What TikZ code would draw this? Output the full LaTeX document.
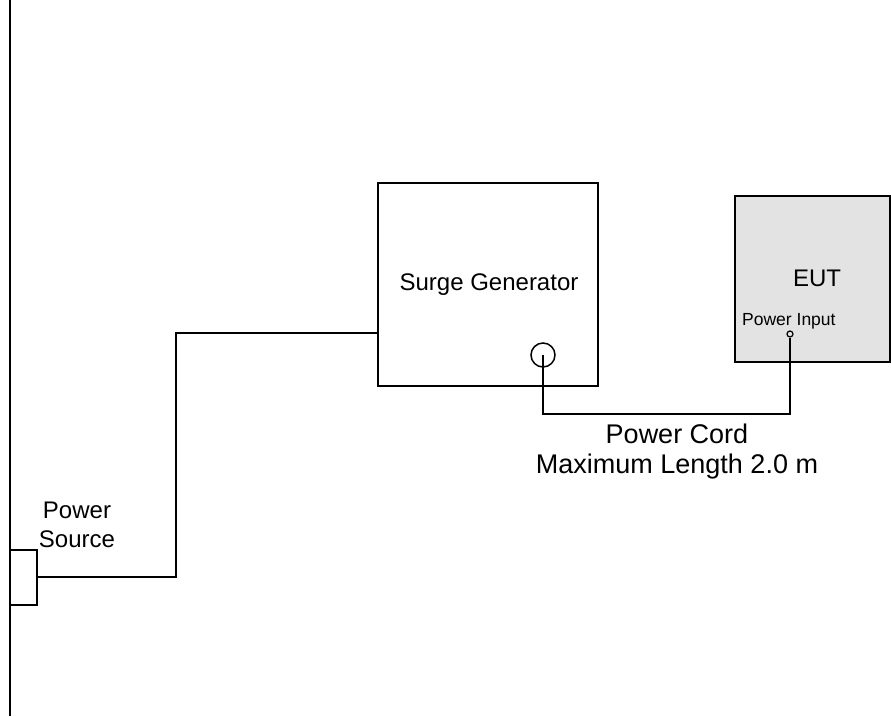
\documentclass[tikz,border=0pt]{standalone}
\usepackage{fontspec}
\setmainfont{Liberation Sans}
\begin{document}
\begin{tikzpicture}[x=1pt,y=-1pt,
  line/.style={draw=black,line width=1.4pt},
  box/.style={draw=black,line width=1.4pt}]
\useasboundingbox (0,0) rectangle (891,716);
% wall
\coordinate (wt) at (10,0);
\coordinate (wb) at (10,716);
\draw[line] (wt) -- (wb);
% power source
\draw[box] (10,550) rectangle (37,605);
\coordinate (ps) at (37,577);
\node[align=center,inner sep=0pt,font=\fontsize{24}{29}\selectfont] (pslabel) at (77,525) {Power\\Source};
% surge generator
\draw[box] (378,183) rectangle (598,386);
\coordinate (sgin) at (378,333);
\node[inner sep=0pt,font=\fontsize{24}{28}\selectfont] (sg) at (489,285) {Surge Generator};
\node[circle,draw,line width=1.5pt,minimum size=24pt,inner sep=0pt] (outc) at (543,355) {};
% EUT
\draw[box,fill=black!11] (735,196) rectangle (890,362);
\node[inner sep=0pt,font=\fontsize{24}{28}\selectfont] (eut) at (817,278) {EUT};
\node[font=\fontsize{17.5}{20}\selectfont,anchor=west,inner sep=0pt] (pin) at (742,321) {Power Input};
\node[circle,draw,line width=1.2pt,minimum size=6pt,inner sep=0pt] (inc) at (790,334) {};
% wires
\draw[line] (ps) -| (176,333) -- (sgin);
\draw[line] (outc.center) -- (543,414) -| (inc.south);
% cord label
\node[align=center,inner sep=0pt,font=\fontsize{27}{30}\selectfont] (cord) at (677,452) {Power Cord\\Maximum Length 2.0 m};
\end{tikzpicture}
\end{document}
